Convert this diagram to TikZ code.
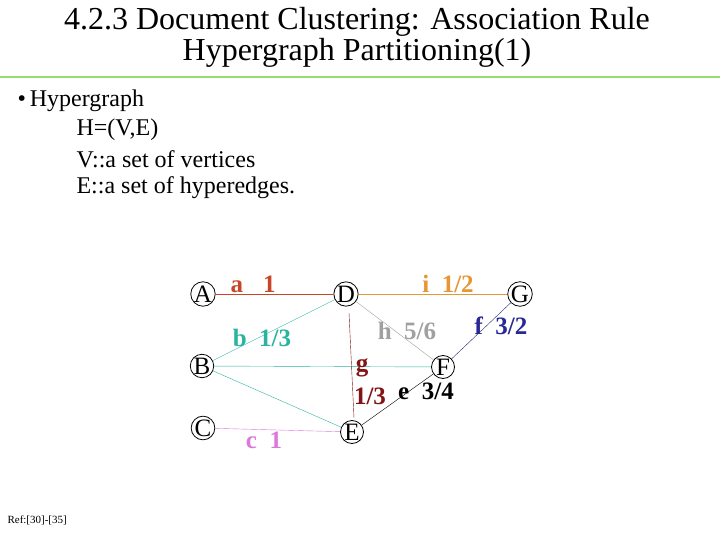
\documentclass[tikz,border=0pt]{standalone}
\usepackage{fontspec}
\setmainfont{Liberation Serif}
\begin{document}
\begin{tikzpicture}[x=1pt,y=-1pt,
  v/.style={circle,draw,thick,inner sep=0pt,minimum size=23pt,font=\fontsize{25}{25}\selectfont},
  lbl/.style={font=\bfseries\fontsize{25}{25}\selectfont},
  txt/.style={anchor=west,font=\fontsize{24}{26}\selectfont}]
\useasboundingbox (0,0) rectangle (720,540);
\node[font=\fontsize{32}{31}\selectfont,align=center] (t) at (357,37) {4.2.3 Document Clustering: Association Rule\\Hypergraph Partitioning(1)};
\draw[draw={rgb,255:red,150;green,220;blue,110},line width=2pt] (0,77) -- (720,77);
\node[txt] (l1) at (14,101) {\textbullet\,Hypergraph};
\node[txt] (l2) at (73,130) {H=(V,E)};
\node[txt] (l3) at (73,159) {V::a set of vertices};
\node[txt] (l4) at (73,188) {E::a set of hyperedges.};
\node[anchor=west,font=\fontsize{11}{12}\selectfont] (ref) at (4,520) {Ref:[30]-[35]};
\node[v] (A) at (203,294) {A};
\node[v] (D) at (346,294) {D};
\node[v] (G) at (520,294) {G};
\node[v] (B) at (202,366) {B};
\node[v] (F) at (443,367) {F};
\node[v] (C) at (203,428) {C};
\node[v] (E) at (352,432) {E};
\coordinate (gt) at (349,313);
\coordinate (gb) at (354,418);
\draw[color={rgb,255:red,200;green,70;blue,40}] (A) -- (D);
\draw[color={rgb,255:red,230;green,150;blue,50}] (D) -- (G);
\draw[color={rgb,255:red,40;green,180;blue,160}] (B) -- (D) (B) -- (F) (B) -- (E);
\draw[color={rgb,255:red,160;green,160;blue,160}] (D) -- (F);
\draw[color={rgb,255:red,130;green,20;blue,20}] (gt) -- (gb);
\draw (E) -- (F);
\draw[color={rgb,255:red,40;green,40;blue,120}] (F) -- (G);
\draw[color={rgb,255:red,220;green,120;blue,220}] (C) -- (E);
\node[lbl,text={rgb,255:red,200;green,70;blue,40}] (la) at (253,284) {a\hspace{20pt}1};
\node[lbl,text={rgb,255:red,230;green,150;blue,50}] (li) at (448,284) {i\ \ 1/2};
\node[lbl,text={rgb,255:red,40;green,180;blue,160}] (lb) at (262,338) {b\ \ 1/3};
\node[lbl,text={rgb,255:red,160;green,160;blue,160}] (lh) at (407,331) {h\ \ 5/6};
\node[lbl,text={rgb,255:red,40;green,40;blue,150}] (lf) at (501,326) {f\ \ 3/2};
\node[lbl,text={rgb,255:red,130;green,20;blue,20}] (lg) at (362,368) {g};
\node[lbl,text={rgb,255:red,130;green,20;blue,20}] (lg2) at (370,396) {1/3};
\node[lbl] (le) at (426,391) {e\ \ 3/4};
\node[lbl,text={rgb,255:red,220;green,120;blue,220}] (lc) at (264,440) {c\ \ 1};
\end{tikzpicture}
\end{document}
